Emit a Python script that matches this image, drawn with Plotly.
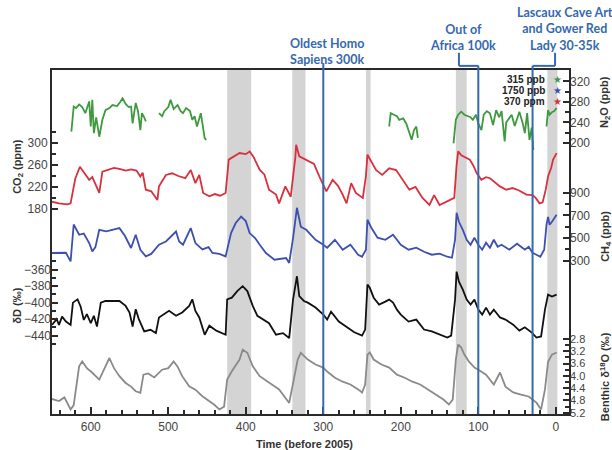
import plotly.graph_objects as go

# ---------------- data (thousands of years before 2005) ----------------
co2_age = [650, 641, 630, 626, 620, 614, 608, 602, 598, 593, 589, 585, 577, 570, 563, 555, 548, 541,
           536, 533, 529, 522, 514, 512, 503, 495, 487, 478, 471, 465, 460, 455, 447, 440, 433, 426,
           422, 415, 408, 400, 395, 390, 382, 376, 370, 361, 357, 349, 342, 336, 335, 331, 327, 318,
           312, 305, 296, 288, 281, 275, 270, 264, 258, 249, 245, 243, 238, 232, 224, 215, 206, 197,
           189, 181, 172, 163, 157, 150, 143, 137, 131, 128, 126, 122, 119, 111, 106, 102, 96, 90,
           85, 78, 72, 64, 56, 48, 38, 30, 26, 21, 17, 13, 10, 6, 3.5, -1]
co2_ppm = [193, 190, 188, 190, 235, 257, 245, 233, 238, 222, 209, 248, 251, 255, 253, 250, 252, 250,
           239, 246, 215, 212, 196, 221, 242, 245, 240, 236, 251, 227, 242, 209, 203, 207, 204, 209,
           270, 276, 282, 280, 285, 275, 251, 243, 215, 206, 190, 221, 202, 275, 297, 276, 273, 266,
           262, 239, 212, 233, 222, 206, 190, 227, 209, 200, 240, 279, 265, 251, 242, 254, 251, 233,
           215, 220, 200, 187, 205, 187, 192, 196, 200, 260, 285, 278, 276, 270, 258, 245, 233, 238,
           236, 228, 221, 215, 218, 214, 206, 205, 200, 190, 192, 215, 239, 255, 270, 282]

n2o_age = [625, 622, 619, 615, 611, 607, 604, 602, 600, 598, 596, 593, 589, 585, 581, 576, 572, 566,
           562, 559, 555, 551, 548, 546, 542, 539, 536, 534, 531, 529, None,
           512, 508, 505, 500, 497, 493, 488, 484, 481, 477, 472, 469, 466, 463, 458, 455, 453, 451, None,
           215, 213, 209, 205, 202, 197, 193, 190, 186, 183, 180, 178, None,
           132, 129, 126, 122, 118, 114, 110, 107, 103, 100, 96, 93, 89, 85, 81, 77, 73, 70, 66, 64,
           60, 57, 53, 50, 47, 43, 40, 37, 34, 31, 29, None,
           12, 10, 8, 5, 2, -1]
n2o_ppb = [222, 271, 268, 275, 270, 258, 272, 281, 232, 284, 219, 250, 212, 245, 264, 268, 274, 272,
           280, 287, 276, 270, 271, 238, 278, 262, 225, 258, 250, 242, None,
           258, 252, 262, 270, 284, 266, 274, 262, 258, 268, 262, 245, 252, 232, 258, 230, 209, 206, None,
           232, 258, 255, 252, 245, 248, 238, 225, 206, 225, 232, 210, None,
           199, 245, 255, 261, 255, 252, 250, 245, 255, 238, 225, 255, 262, 258, 235, 264, 250, 262, 203, 240,
           250, 255, 233, 245, 261, 240, 219, 258, 206, 230, 186, None,
           232, 264, 255, 260, 262, 268]

ch4_age = [650, 641, 632, 626, 622, 615, 609, 602, 598, 594, 589, 580, 572, 563, 556, 548, 542, 536,
           529, 522, 512, 503, 490, 486, 481, 471, 465, 456, 448, 443, 434, 426, 419, 413, 406, 400,
           395, 388, 382, 374, 363, 348, 344, 339, 334, 329, 322, 315, 310, 300, 295, 285, 275, 265,
           255, 250, 245, 243, 238, 230, 220, 210, 200, 190, 180, 170, 160, 150, 140, 134, 130, 128,
           125, 120, 115, 110, 105, 100, 95, 90, 85, 80, 75, 70, 60, 50, 40, 35, 30, 25, 20, 15, 12,
           10, 8, 5, 2, -1]
ch4_ppb = [368, 368, 370, 294, 620, 529, 540, 456, 382, 420, 573, 560, 573, 588, 520, 412, 529, 397,
           338, 360, 441, 470, 558, 470, 441, 588, 456, 400, 420, 368, 360, 338, 544, 633, 690, 650,
           544, 500, 441, 368, 309, 324, 280, 500, 768, 600, 573, 520, 485, 441, 415, 485, 397, 441,
           353, 335, 397, 662, 591, 503, 485, 529, 441, 397, 415, 379, 353, 362, 335, 326, 485, 723,
           644, 573, 485, 441, 503, 441, 397, 459, 415, 485, 423, 441, 397, 450, 397, 423, 370, 353,
           335, 397, 618, 688, 618, 644, 679, 706]

dd_age = [650, 644, 641, 637, 632, 626, 623, 617, 613, 609, 605, 600, 596, 592, 587, 581, 572, 563,
          555, 550, 546, 542, 538, 531, 523, 516, 512, 505, 499, 490, 482, 473, 469, 465, 460, 453,
          447, 438, 430, 426, 424, 418, 411, 404, 398, 391, 385, 378, 370, 361, 352, 344, 339, 334,
          331, 325, 320, 310, 300, 295, 290, 280, 270, 260, 250, 246, 243, 240, 235, 228, 220, 215,
          210, 205, 200, 190, 180, 170, 160, 150, 140, 135, 130, 128, 125, 120, 115, 110, 105, 100,
          95, 90, 85, 80, 72, 65, 55, 47, 40, 31, 25, 19, 14, 10, 5, -1]
dd_permil = [-427, -420, -427, -417, -423, -427, -400, -396, -405, -421, -414, -425, -416, -429, -400,
             -398, -398, -398, -404, -412, -429, -408, -420, -435, -433, -437, -418, -414, -410, -416,
             -412, -404, -396, -410, -418, -439, -428, -434, -437, -439, -396, -394, -386, -380, -386,
             -404, -416, -420, -425, -439, -437, -443, -396, -368, -392, -398, -400, -406, -414.5,
             -420.6, -411, -423, -430, -436, -440, -432.7, -378, -382, -394, -402.4, -398.8, -396.4,
             -400, -408.5, -414.5, -423, -420.6, -432.7, -435, -438.8, -442.4, -440, -396.4, -362.4,
             -374.5, -384.2, -396.4, -402.4, -396.4, -408.5, -414.5, -406, -414.5, -408.5, -418,
             -420.6, -426.7, -434, -430, -436.4, -442.4, -441, -408.5, -390.3, -392.7, -390.3]

d18o_age = [650, 641, 634, 626, 622, 615, 611, 605, 598, 589, 581, 576, 570, 563, 555, 548, 542, 536,
            532, 526, 518, 508, 500, 493, 488, 482, 473, 465, 456, 448, 441, 434, 428, 424, 418, 408,
            404, 398, 391, 382, 370, 357, 344, 338, 333, 329, 320, 310, 300, 295, 285, 275, 265, 255,
            250, 246, 243, 240, 235, 225, 215, 205, 195, 185, 175, 165, 155, 145, 138, 133, 129, 126,
            122, 118, 112, 105, 100, 90, 80, 72, 65, 55, 45, 35, 25, 19, 14, 10, 5, -1]
d18o_permil = [4.75, 4.82, 4.70, 5.09, 4.95, 3.69, 3.53, 3.75, 3.90, 4.12, 3.69, 3.42, 3.75, 4.01, 4.23,
               4.35, 4.50, 4.55, 3.96, 3.92, 4.05, 3.80, 3.75, 3.53, 3.70, 4.01, 4.34, 4.45, 4.66, 4.80,
               4.93, 5.09, 5.00, 4.12, 3.85, 3.47, 3.15, 3.25, 3.69, 4.01, 4.23, 4.44, 4.88, 4.12, 3.47,
               3.25, 3.47, 3.63, 3.73, 3.86, 4.06, 4.19, 4.28, 4.44, 4.54, 4.28, 3.31, 3.24, 3.47, 3.63,
               3.73, 3.96, 4.06, 4.19, 4.28, 4.44, 4.61, 4.77, 4.93, 4.77, 3.47, 2.98, 3.08, 3.31, 3.54,
               3.73, 3.80, 3.96, 4.28, 3.89, 4.35, 4.54, 4.61, 4.67, 4.87, 5.09, 4.44, 3.54, 3.31, 3.24]

# interglacial periods (start, end) in kyr
interglacials = [(424, 393), (340, 323), (245, 239), (129, 115), (11, -2)]

# human milestones (kyr)
homo_sapiens_k = 300
out_of_africa_k = 100
lascaux_k = 30

x_tick_vals = [600, 500, 400, 300, 200, 100, 0]
co2_ticks = [180, 220, 260, 300]
n2o_ticks = [200, 240, 280, 320]
ch4_ticks = [300, 500, 700, 900]
dd_ticks = [-440, -420, -400, -380, -360]
d18o_ticks = [2.8, 3.2, 3.6, 4.0, 4.4, 4.8, 5.2]

# ---------------- styling ----------------
GREEN = "#3f9a3f"
RED = "#d9303e"
BLUE = "#3d4fb0"
BLACK = "#111111"
GRAY = "#8a8a8a"
MARK = "#3569b0"
AXIS = "#2a2a2a"
TICKFONT = dict(family="Liberation Sans, Arial", size=12, color="#444444")
SMALLTICKFONT = dict(family="Liberation Sans, Arial", size=11, color="#444444")

fig = go.Figure()
fig.add_trace(go.Scatter(x=n2o_age, y=n2o_ppb, yaxis="y2", mode="lines",
                         line=dict(color=GREEN, width=1.8), connectgaps=False, name="N2O"))
fig.add_trace(go.Scatter(x=co2_age, y=co2_ppm, yaxis="y", mode="lines",
                         line=dict(color=RED, width=1.8), name="CO2"))
fig.add_trace(go.Scatter(x=ch4_age, y=ch4_ppb, yaxis="y3", mode="lines",
                         line=dict(color=BLUE, width=1.8), name="CH4"))
fig.add_trace(go.Scatter(x=dd_age, y=dd_permil, yaxis="y4", mode="lines",
                         line=dict(color=BLACK, width=1.8), name="dD"))
fig.add_trace(go.Scatter(x=d18o_age, y=d18o_permil, yaxis="y5", mode="lines",
                         line=dict(color=GRAY, width=1.8), name="d18O"))


def yax(rng, ticks, side, minor_vals, fmt=None, overlay=True, font=TICKFONT):
    d = dict(range=rng, side=side, anchor="x", tickmode="array", tickvals=ticks,
             ticks="inside", ticklen=6, tickwidth=1.5, tickcolor=AXIS,
             tickfont=font, showgrid=False, zeroline=False,
             minor=dict(tickmode="array", tickvals=minor_vals, ticks="inside",
                        ticklen=4, tickwidth=1.5, tickcolor=AXIS))
    if fmt:
        d["ticktext"] = [fmt.format(t) for t in ticks]
    if overlay:
        d["overlaying"] = "y"
        d["showline"] = False
    return d


layout_y = yax([-195.3, 433.9], co2_ticks, "left", [200, 240, 280, 320], overlay=False)
layout_y.update(showline=True, mirror=True, linewidth=2, linecolor=AXIS)

fig.update_layout(
    width=612, height=450,
    margin=dict(l=52, r=43, t=70, b=35.5),
    paper_bgcolor="white", plot_bgcolor="white",
    showlegend=False,
    xaxis=dict(range=[650, -17], tickmode="array", tickvals=x_tick_vals,
               ticks="inside", ticklen=7, tickwidth=1.5, tickcolor=AXIS,
               tickfont=TICKFONT, ticklabelstandoff=1,
               showline=True, mirror=True, linewidth=2, linecolor=AXIS,
               showgrid=False, zeroline=False,
               minor=dict(tickmode="array",
                          tickvals=[v for v in range(640, 0, -20) if v % 100],
                          ticks="inside", ticklen=4, tickwidth=1.5, tickcolor=AXIS)),
    yaxis=layout_y,
    yaxis2=yax([-329.8, 342.4], n2o_ticks, "right", [220, 260, 300]),
    yaxis3=yax([-1055, 1985.6], ch4_ticks, "right", [400, 600, 800]),
    yaxis4=yax([-535.2, -117.6], dd_ticks, "left", [-450, -430, -410, -390, -370, -350]),
    yaxis5=yax([5.239, -5.935], d18o_ticks, "right",
               [3.0, 3.4, 3.8, 4.2, 4.6, 5.0], fmt="{:.1f}", font=SMALLTICKFONT),
)

# interglacial shading
for a, b in interglacials:
    fig.add_shape(type="rect", xref="x", yref="paper", x0=a, x1=b, y0=0, y1=1,
                  fillcolor="#d4d4d4", line=dict(width=0), layer="below")

# milestone markers
ln = dict(color=MARK, width=2)
fig.add_shape(type="line", xref="x", yref="paper", x0=homo_sapiens_k, x1=homo_sapiens_k,
              y0=0, y1=1.02, line=ln)
fig.add_shape(type="line", xref="x", yref="paper", x0=out_of_africa_k, x1=out_of_africa_k,
              y0=0, y1=1.012, line=ln)
fig.add_shape(type="line", xref="x", yref="paper", x0=125, x1=out_of_africa_k,
              y0=1.012, y1=1.012, line=ln)
fig.add_shape(type="line", xref="x", yref="paper", x0=125, x1=125,
              y0=1.012, y1=1.05, line=ln)
fig.add_shape(type="line", xref="x", yref="paper", x0=lascaux_k, x1=lascaux_k,
              y0=0, y1=1.012, line=ln)
fig.add_shape(type="line", xref="x", yref="paper", x0=1, x1=lascaux_k,
              y0=1.012, y1=1.012, line=ln)
fig.add_shape(type="line", xref="x", yref="paper", x0=1, x1=1,
              y0=1.012, y1=1.05, line=ln)

LABELFONT = dict(family="Lato, Open Sans", size=12.5, color=MARK)
for txt, xp, yp in [("<b>Oldest Homo<br>Sapiens 300k</b>", 0.532, 1.0537),
                    ("<b>Out of<br>Africa 100k</b>", 0.795, 1.0944),
                    ("<b>Lascaux Cave Art<br>and Gower Red<br>Lady 30-35k</b>", 0.9923, 1.119)]:
    fig.add_annotation(text=txt, xref="paper", yref="paper", x=xp, y=yp,
                       xanchor="center", yanchor="middle", showarrow=False, font=LABELFONT)

# present-day reference values
for txt, col, yp in [("315 ppb", GREEN, 0.971), ("1750 ppb", BLUE, 0.939), ("370 ppm", RED, 0.907)]:
    fig.add_annotation(text="<b>" + txt + "</b>", xref="paper", yref="paper", x=0.9575, y=yp,
                       xanchor="right", yanchor="middle", showarrow=False,
                       font=dict(family="Liberation Sans, Arial", size=10, color="#222222"))
    fig.add_annotation(text="★", xref="paper", yref="paper", x=0.9768, y=yp,
                       xanchor="center", yanchor="middle", showarrow=False,
                       font=dict(family="DejaVu Sans", size=10, color=col))

# axis titles
TITLEFONT = dict(family="Liberation Sans, Arial", size=11, color="#333333")
for txt, xp, yp in [("<b>CO<sub>2</sub> (ppm)</b>", -0.0658, 0.7213),
                    ("<b>δD (‰)</b>", -0.0677, 0.315)]:
    fig.add_annotation(text=txt, xref="paper", yref="paper", x=xp, y=yp, textangle=-90,
                       xanchor="center", yanchor="middle", showarrow=False, font=TITLEFONT)
for txt, xp, yp in [("<b>N<sub>2</sub>O (ppb)</b>", 1.0696, 0.907),
                    ("<b>CH<sub>4</sub> (ppb)</b>", 1.0716, 0.515),
                    ("<b>Benthic δ<sup>18</sup>O (‰)</b>", 1.0696, 0.11)]:
    fig.add_annotation(text=txt, xref="paper", yref="paper", x=xp, y=yp, textangle=-90,
                       xanchor="center", yanchor="middle", showarrow=False, font=TITLEFONT)
fig.add_annotation(text="<b>Time (before 2005)</b>", xref="paper", yref="paper", x=0.489, y=-0.087,
                   xanchor="center", yanchor="middle", showarrow=False, font=TITLEFONT)

fig.write_html("out.html", config={"displayModeBar": False})
